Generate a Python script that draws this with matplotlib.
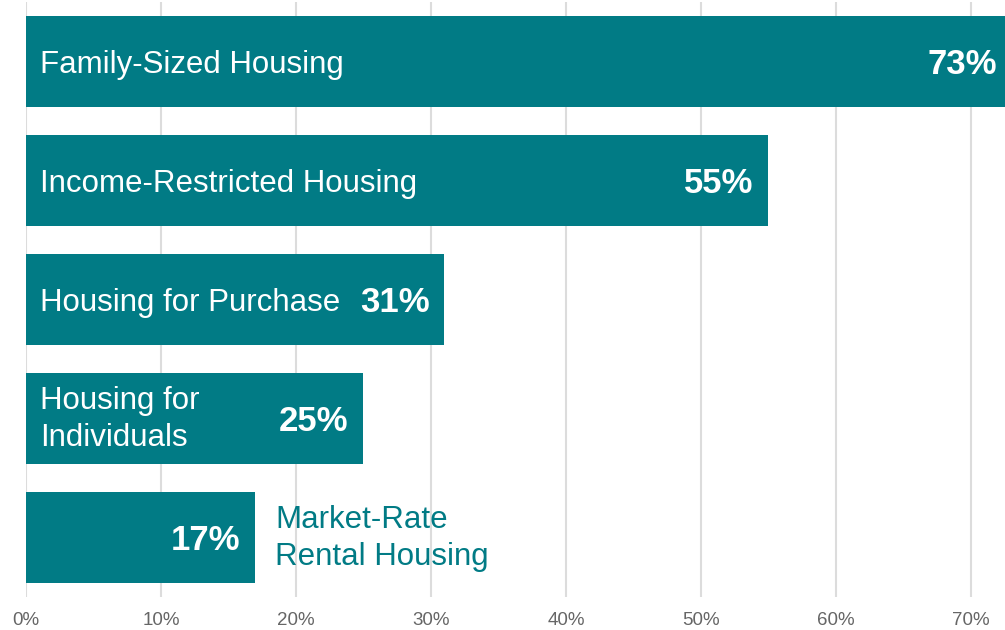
import matplotlib.pyplot as plt

plt.rcParams['font.family'] = ['Liberation Sans', 'DejaVu Sans']

categories = ["Family-Sized Housing", "Income-Restricted Housing", "Housing for Purchase",
              "Housing for\nIndividuals", "Market-Rate\nRental Housing"]
values = [73, 55, 31, 25, 17]
inside = [True, True, True, True, False]
xticks = [0, 10, 20, 30, 40, 50, 60, 70]

teal = "#017b85"

fig = plt.figure(figsize=(10.05, 6.3), dpi=100)
ax = fig.add_axes([26 / 1005, 33 / 630, 1 - 26 / 1005, 595 / 630])

ypos = list(range(len(categories)))
ax.barh(ypos, values, height=0.77, color=teal, zorder=2)

for y, cat, v, ins in zip(ypos, categories, values, inside):
    ax.text(v - 1.1, y + 0.105, f"{v}%", color="white", fontsize=25, fontweight="bold",
            ha="right", va="baseline", zorder=3)
    multi = "\n" in cat
    if ins:
        if multi:
            ax.text(1.05, y + 0.01, cat, color="white", fontsize=22.5, ha="left",
                    va="center", linespacing=1.28, zorder=3)
        else:
            ax.text(1.05, y + 0.094, cat, color="white", fontsize=22.5, ha="left",
                    va="baseline", zorder=3)
    else:
        ax.text(v + 1.45, y + 0.01, cat, color=teal, fontsize=22.5, ha="left",
                va="center", linespacing=1.28, zorder=3)

ax.set_xlim(0, 72.52)
ax.set_ylim(4.5, -0.5)
ax.set_xticks(xticks)
ax.set_xticklabels([f"{t}%" for t in xticks])
ax.set_yticks([])
ax.tick_params(axis="x", length=0, pad=11, labelsize=13.5, labelcolor="#666666")
ax.grid(axis="x", color="#dcdcdc", linewidth=1.5, zorder=0)
for s in ax.spines.values():
    s.set_visible(False)

fig.savefig("out.png", dpi=100)
